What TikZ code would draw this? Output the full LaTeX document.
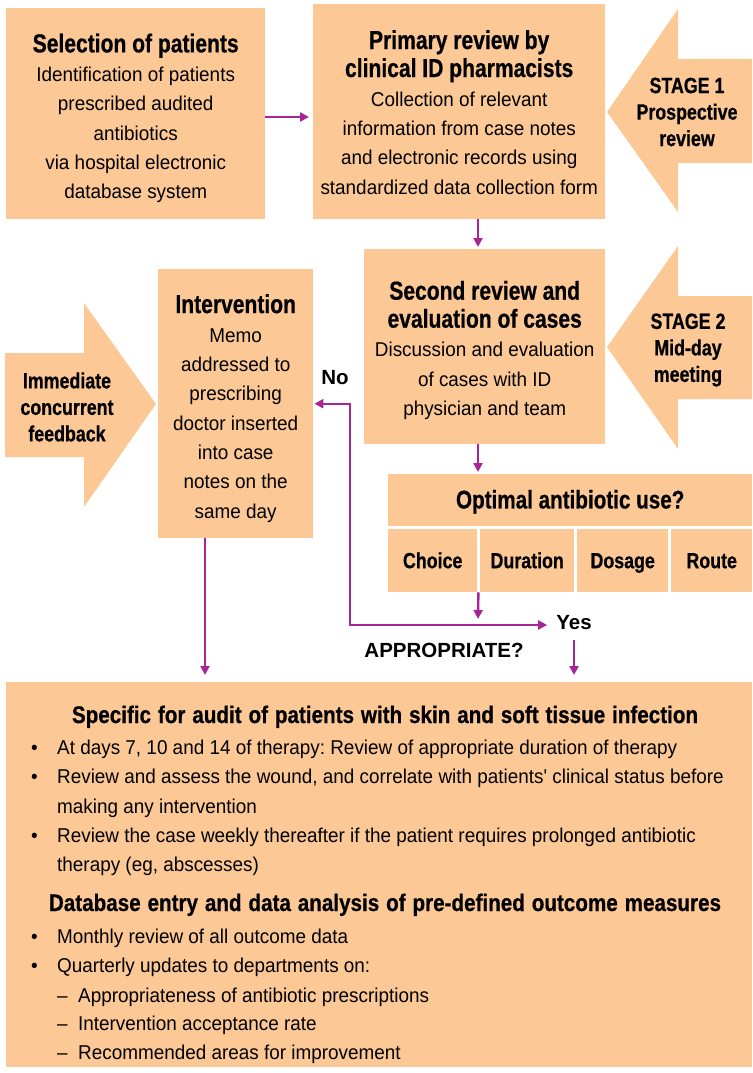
\documentclass[tikz,border=0pt]{standalone}
\usepackage{fontspec}
\setmainfont{Liberation Sans}
\frenchspacing
\newfontfamily\bodyf{Liberation Sans}[FakeStretch=0.945]
\newfontfamily\bodyg{Liberation Sans}[FakeStretch=0.945]
\newfontfamily\headf{Liberation Sans}[FakeStretch=0.81, BoldFeatures={FakeBold=0.6}]
\newfontfamily\headg{Liberation Sans}[FakeStretch=0.86, WordSpace=1.2, BoldFeatures={FakeBold=0.6}]
\usetikzlibrary{arrows.meta}
\definecolor{peach}{RGB}{252,200,150}
\definecolor{mag}{RGB}{168,38,148}
\newcommand\fixsp{\spaceskip=\fontdimen2\font\relax\xspaceskip=\fontdimen2\font\relax}
\newcommand\hd[2]{{\headf\bfseries\fontsize{26}{28}\selectfont\fixsp\rule{0pt}{#1pt}#2\par}}
\newcommand\bd{\bodyf\fontsize{20}{29.3}\selectfont\fixsp}
\tikzset{
  box/.style={fill=peach, inner sep=0pt, align=center, anchor=north west},
  arr/.style={draw=mag, line width=2.4pt, -{Triangle[length=9pt,width=9pt]}},
  shapefill/.style={fill=peach},
  stagetxt/.style={align=center, inner sep=0pt, font=\headf\bfseries\fontsize{22}{26.5}\selectfont},
  celltxt/.style={text height=18pt, text depth=3pt, font=\headf\bfseries\fontsize{22}{24}\selectfont},
  lbl/.style={inner sep=0pt, font=\bfseries\fontsize{20.5}{24}\selectfont},
  hline/.style={inner sep=0pt, anchor=base, font=\headg\bfseries\fontsize{24}{28}\selectfont},
  bline/.style={inner sep=0pt, anchor=base west, font=\bodyg\fontsize{20}{29}\selectfont\frenchspacing},
}
\begin{document}
\begin{tikzpicture}[x=1pt,y=-1pt]
\useasboundingbox (0,0) rectangle (752,1073);

% stage arrows (shapes)
\fill[shapefill] (607,112) -- (678,9) -- (678,59) -- (752,59) -- (752,163) -- (678,163) -- (678,212) -- cycle;
\fill[shapefill] (607,347) -- (678,246) -- (678,296) -- (752,296) -- (752,399) -- (678,399) -- (678,449) -- cycle;
\fill[shapefill] (5,353) -- (84,353) -- (84,303) -- (156,404) -- (84,507) -- (84,457) -- (5,457) -- cycle;

\node[stagetxt] (s1) at (687,112) {STAGE 1\\Prospective\\review};
\node[stagetxt] (s2) at (688,350) {STAGE 2\\Mid-day\\meeting};
\node[stagetxt] (s0) at (67,407) {Immediate\\concurrent\\feedback};

% boxes
\node[box, text width=259pt, minimum height=211pt] (sel) at (6,8)
  {\hd{28}{Selection of patients}\bd Identification of patients\\prescribed audited\\antibiotics\\via hospital electronic\\database system\par};
\node[box, text width=292pt, minimum height=215pt] (prim) at (313,4)
  {\hd{20}{Primary review by\\clinical ID pharmacists}\bd Collection of relevant\\information from case notes\\and electronic records using\\standardized data collection form\par};
\node[box, text width=241pt, minimum height=195pt] (second) at (364,249)
  {\hd{26}{Second review and\\evaluation of cases}\bd Discussion and evaluation\\of cases with ID\\physician and team\par};
\node[box, text width=155pt, minimum height=269pt] (interv) at (158,269)
  {\hd{28}{Intervention}\bd Memo\\addressed to\\prescribing\\doctor inserted\\into case\\notes on the\\same day\par};

\node[box, minimum width=364pt, minimum height=52pt, text height=22pt, text depth=5.5pt, font=\headf\bfseries\fontsize{25.5}{28}\selectfont] (opt) at (388,474) {Optimal antibiotic use?};
\node[box, minimum width=89pt, minimum height=63pt, celltxt] (choice) at (388,529) {Choice};
\node[box, minimum width=94pt, minimum height=63pt, celltxt] (dur) at (480,529) {Duration};
\node[box, minimum width=91pt, minimum height=63pt, celltxt] (dos) at (577,529) {Dosage};
\node[box, minimum width=81pt, minimum height=63pt, celltxt] (route) at (671,529) {Route};

\node[box, minimum width=746pt, minimum height=385pt] (audit) at (6,682) {};

% labels
\node[lbl] (no) at (335,378) {No};
\node[lbl] (yes) at (574,623) {Yes};
\node[lbl] (approp) at (444,650) {APPROPRIATE?};

% connectors
\coordinate (ax) at (478,0);
\coordinate (r1) at (0,117);
\coordinate (turn) at (350,625);
\coordinate (ix) at (205,0);
\draw[arr, shorten >=4pt] (sel.east |- r1) -- (prim.west |- r1);
\draw[arr, shorten >=2pt] (prim.south -| ax) -- (second.north -| ax);
\draw[arr, shorten >=2pt] (second.south -| ax) -- (opt.north -| ax);
\coordinate (merge) at (478,619);
\draw[arr] (choice.south east) ++(1,0) -- (merge);
\draw[draw=mag, line width=2.4pt, {Triangle[length=9pt,width=9pt]}-{Triangle[length=9pt,width=9pt]}, shorten <=1pt, shorten >=9pt]
  (interv.east) -| (turn) -- (yes.west |- turn);
\draw[arr, shorten <=10pt, shorten >=7pt] (yes.south) -- (audit.north -| yes);
\draw[arr, shorten >=7pt] (interv.south -| ix) -- (audit.north -| ix);

% bottom text
\node[hline] (t1) at (385,723) {Specific for audit of patients with skin and soft tissue infection};
\node[bline] (b1) at (31,754) {\makebox[26pt][l]{\textbullet}At days 7, 10 and 14 of therapy: Review of appropriate duration of therapy};
\node[bline] (b2) at (31,783) {\makebox[26pt][l]{\textbullet}Review and assess the wound, and correlate with patients' clinical status before};
\node[bline] (b2b) at (57,813) {making any intervention};
\node[bline] (b3) at (31,842) {\makebox[26pt][l]{\textbullet}Review the case weekly thereafter if the patient requires prolonged antibiotic};
\node[bline] (b3b) at (57,871) {therapy (eg, abscesses)};
\node[hline] (t2) at (385,911) {Database entry and data analysis of pre-defined outcome measures};
\node[bline] (c1) at (31,943) {\makebox[26pt][l]{\textbullet}Monthly review of all outcome data};
\node[bline] (c2) at (31,972) {\makebox[26pt][l]{\textbullet}Quarterly updates to departments on:};
\node[bline] (d1) at (57,1002) {\makebox[21pt][l]{\textendash}Appropriateness of antibiotic prescriptions};
\node[bline] (d2) at (57,1030) {\makebox[21pt][l]{\textendash}Intervention acceptance rate};
\node[bline] (d3) at (57,1059) {\makebox[21pt][l]{\textendash}Recommended areas for improvement};
\end{tikzpicture}
\end{document}
